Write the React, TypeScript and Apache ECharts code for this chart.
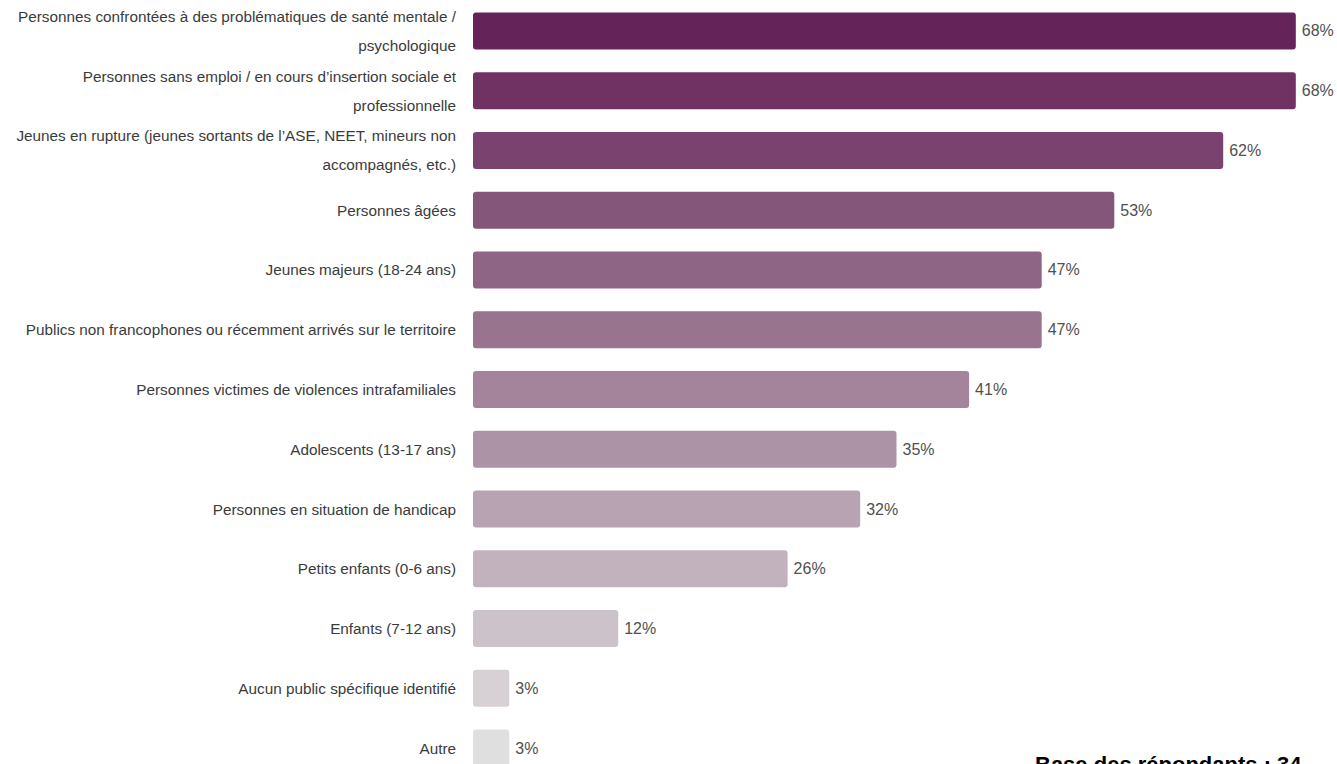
import React, { useEffect, useRef } from "react";
import * as echarts from "echarts";

const categories = [
  "Personnes confrontées à des problématiques de santé mentale /\npsychologique",
  "Personnes sans emploi / en cours d’insertion sociale et\nprofessionnelle",
  "Jeunes en rupture (jeunes sortants de l’ASE, NEET, mineurs non\naccompagnés, etc.)",
  "Personnes âgées",
  "Jeunes majeurs (18-24 ans)",
  "Publics non francophones ou récemment arrivés sur le territoire",
  "Personnes victimes de violences intrafamiliales",
  "Adolescents (13-17 ans)",
  "Personnes en situation de handicap",
  "Petits enfants (0-6 ans)",
  "Enfants (7-12 ans)",
  "Aucun public spécifique identifié",
  "Autre",
];

const values = [68, 68, 62, 53, 47, 47, 41, 35, 32, 26, 12, 3, 3];

const barColors = [
  "#652459", "#6f3262", "#7a436f", "#845679", "#8e6585", "#98748f",
  "#a3849b", "#ad93a6", "#b8a3b2", "#c2b2bd", "#ccc2ca", "#d7d0d5", "#e0dfe0",
];

const footnote = "Base des répondants : 34";

const FONT = "'Liberation Sans Narrow', 'Arial Narrow', 'Liberation Sans', sans-serif";

export default function App() {
  const ref = useRef<HTMLDivElement>(null);
  useEffect(() => {
    if (!ref.current) return;
    const chart = echarts.init(ref.current, undefined, { renderer: "svg" });
    chart.setOption({
      animation: false,
      grid: {
        left: 473,
        top: 1,
        height: 777,
        width: 847,
        containLabel: false,
        outerBoundsMode: "none",
      },
      xAxis: { type: "value", min: 0, max: 70, show: false },
      yAxis: {
        type: "category",
        inverse: true,
        data: categories,
        axisLine: { show: false },
        axisTick: { show: false },
        axisLabel: {
          margin: 17,
          fontFamily: FONT,
          fontSize: 15.3,
          color: "#3b3b3b",
          lineHeight: 29,
          align: "right",
        },
      },
      series: [
        {
          type: "bar",
          barWidth: 37,
          data: values.map((v, i) => ({ value: v, itemStyle: { color: barColors[i] } })),
          itemStyle: { borderRadius: 3 },
          label: {
            show: true,
            position: "right",
            distance: 6,
            formatter: "{c}%",
            fontFamily: FONT,
            fontSize: 16,
            color: "#505050",
          },
        },
      ],
      graphic: [
        {
          type: "text",
          left: 1035,
          top: 753,
          style: {
            text: footnote,
            fontFamily: "'Liberation Sans', Arial, sans-serif",
            fontWeight: "bold",
            fontSize: 22,
            fill: "#000000",
          },
        },
      ],
    });
    return () => chart.dispose();
  }, []);
  return (
    <div
      ref={ref}
      style={{ position: "fixed", left: 0, top: 0, width: 1337, height: 800, background: "#fff" }}
    />
  );
}
